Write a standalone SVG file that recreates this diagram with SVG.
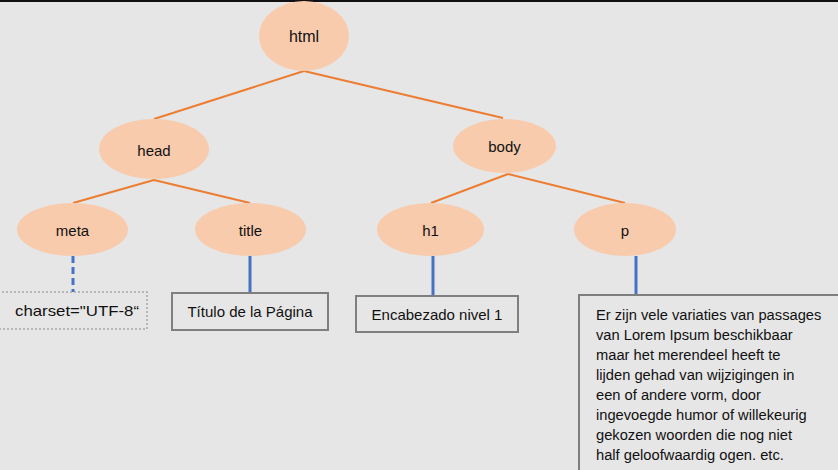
<svg xmlns="http://www.w3.org/2000/svg" width="838" height="470" viewBox="0 0 838 470">
<style>
.node ellipse{fill:#f8cbad;}
.lbl{font-family:"Liberation Sans",Arial,sans-serif;font-size:15px;fill:#111;text-anchor:middle;}
.txt{font-family:"Liberation Sans",Arial,sans-serif;font-size:14.7px;fill:#111;}
.tree{stroke:#ed7d31;stroke-width:2;fill:none;}
.blue{stroke:#4472c4;stroke-width:3;fill:none;}
.box{fill:#e6e6e6;stroke:#7f7f7f;stroke-width:2;}
</style>
<rect x="0" y="0" width="838" height="470" fill="#e6e6e6"/>
<rect x="0" y="0" width="838" height="2" fill="#111"/>
<g id="connectors">
<line class="tree" x1="304" y1="71" x2="154" y2="119"/>
<line class="tree" x1="304" y1="71" x2="503" y2="118"/>
<line class="tree" x1="154" y1="180" x2="73" y2="203"/>
<line class="tree" x1="154" y1="180" x2="250" y2="203"/>
<line class="tree" x1="508" y1="174" x2="431" y2="203"/>
<line class="tree" x1="508" y1="174" x2="625" y2="203"/>
<line class="blue" x1="73" y1="256" x2="73" y2="292" stroke-dasharray="7,4"/>
<line class="blue" x1="250" y1="256" x2="250" y2="293"/>
<line class="blue" x1="433" y1="256" x2="433" y2="296"/>
<line class="blue" x1="636" y1="256" x2="636" y2="295"/>
</g>
<g id="html" class="node"><ellipse cx="304" cy="36" rx="45" ry="35"/><text class="lbl" x="304" y="42" style="font-size:16px">html</text></g>
<g id="head" class="node"><ellipse cx="154" cy="149" rx="55" ry="30"/><text class="lbl" x="154" y="156">head</text></g>
<g id="body" class="node"><ellipse cx="504.5" cy="146" rx="51.5" ry="27"/><text class="lbl" x="504.5" y="152">body</text></g>
<g id="meta" class="node"><ellipse cx="72.5" cy="229.5" rx="55.5" ry="26.5"/><text class="lbl" x="72.5" y="236">meta</text></g>
<g id="title" class="node"><ellipse cx="250.5" cy="229.5" rx="55.5" ry="26.5"/><text class="lbl" x="250.5" y="236">title</text></g>
<g id="h1" class="node"><ellipse cx="430.5" cy="229.5" rx="53.5" ry="26.5"/><text class="lbl" x="430.5" y="236">h1</text></g>
<g id="p" class="node"><ellipse cx="625" cy="229.5" rx="51" ry="26.5"/><text class="lbl" x="625" y="236">p</text></g>
<g id="charset">
<rect x="-2" y="292" width="149" height="37" fill="#e6e6e6" stroke="#a6a6a6" stroke-width="1.5" stroke-dasharray="2,2"/>
<text class="lbl" x="77" y="316" textLength="124" lengthAdjust="spacingAndGlyphs">charset="UTF-8“</text>
</g>
<g id="titulo">
<rect class="box" x="172" y="293" width="156" height="37"/>
<text class="lbl" x="250" y="317">Título de la Página</text>
</g>
<g id="encabezado">
<rect class="box" x="356" y="296" width="162" height="36"/>
<text class="lbl" x="437" y="320">Encabezado nivel 1</text>
</g>
<g id="ptext">
<rect class="box" x="579" y="295" width="270" height="190"/>
<text class="txt" x="596" y="320">Er zijn vele variaties van passages</text>
<text class="txt" x="596" y="340">van Lorem Ipsum beschikbaar</text>
<text class="txt" x="596" y="360">maar het merendeel heeft te</text>
<text class="txt" x="596" y="380">lijden gehad van wijzigingen in</text>
<text class="txt" x="596" y="400">een of andere vorm, door</text>
<text class="txt" x="596" y="420">ingevoegde humor of willekeurig</text>
<text class="txt" x="596" y="440">gekozen woorden die nog niet</text>
<text class="txt" x="596" y="460">half geloofwaardig ogen. etc.</text>
</g>
</svg>
